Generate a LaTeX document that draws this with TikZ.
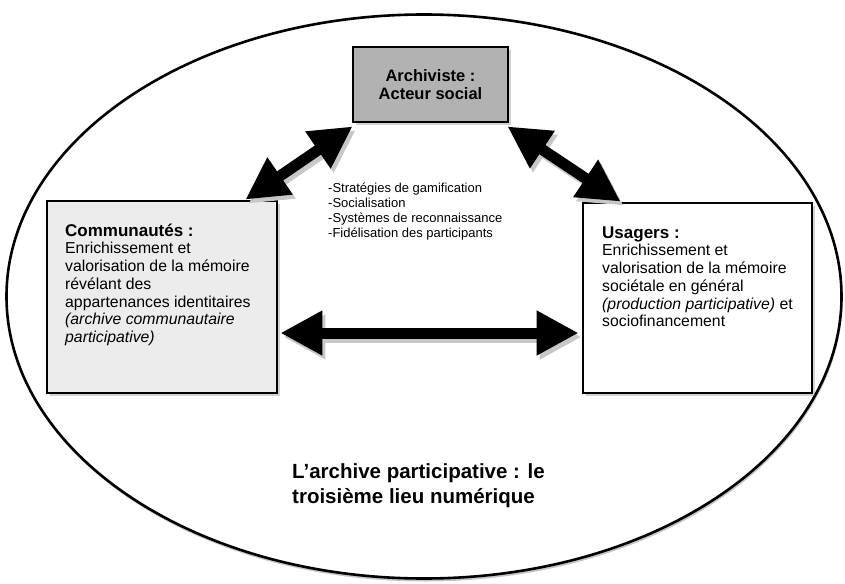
\documentclass[tikz,border=0pt]{standalone}
\usepackage{fontspec}
\setmainfont{Liberation Sans}
\usetikzlibrary{arrows.meta,shadows,shapes.geometric}
\definecolor{archgray}{RGB}{178,178,178}
\definecolor{commgray}{RGB}{236,236,236}
\begin{document}
\begin{tikzpicture}[x=1pt,y=-1pt,
  frame/.style={ellipse, draw=black, line width=2.6pt, fill=white, inner sep=0pt,
    drop shadow={shadow xshift=1pt, shadow yshift=-3pt, opacity=0.45}},
  boxframe/.style={rectangle, draw=black, line width=2.8pt, inner sep=0pt,
    drop shadow={shadow xshift=3pt, shadow yshift=-3pt, opacity=0.35}},
  bodytext/.style={anchor=north west, inner sep=0pt, align=left,
    font=\fontsize{15.8}{17.7}\selectfont},
  listtext/.style={anchor=north west, inner sep=0pt, align=left,
    font=\fontsize{13}{15}\selectfont},
  titletext/.style={anchor=north west, inner sep=0pt, align=left,
    font=\fontsize{20.5}{25}\selectfont\bfseries},
  bigarrow/.style={line width=11pt,
    {Triangle[length=42pt,width=42pt]}-{Triangle[length=42pt,width=42pt]}},
  arrowshadow/.style={bigarrow, draw=black!22,
    transform canvas={shift={(3pt,-4pt)}}}
]
\useasboundingbox (0,0) rectangle (845,583);

% outer ellipse: the participatory archive
\node[frame, minimum width=835pt, minimum height=564pt] (space) at (424,296.5) {};

% the three actors
\node[boxframe, fill=archgray, minimum width=155pt, minimum height=75pt,
  align=center, font=\fontsize{16.5}{18.5}\selectfont\bfseries]
  (arch) at (430.5,84.5) {Archiviste :\\Acteur social};
\node[boxframe, fill=commgray, minimum width=230pt, minimum height=192pt]
  (comm) at (162,297) {};
\node[boxframe, fill=white, minimum width=229pt, minimum height=190pt]
  (usag) at (697.5,298) {};

% box contents
\node[bodytext] (commtxt) at (65,219) {\rule{0pt}{17pt}{\fontsize{17}{17.7}\selectfont\bfseries Communautés :}\\
  Enrichissement et\\
  valorisation de la mémoire\\
  révélant des\\
  appartenances identitaires\\
  \textit{(archive communautaire}\\
  \textit{participative)}};
\node[bodytext] (usagtxt) at (602,221) {\rule{0pt}{17pt}{\fontsize{17}{17.7}\selectfont\bfseries Usagers :}\\
  Enrichissement et\\
  valorisation de la mémoire\\
  sociétale en général\\
  \textit{(production participative)} et\\
  sociofinancement};

% levers listed between the actors
\node[listtext] (levers) at (328,178) {\rule{0pt}{14pt}-Stratégies de gamification\\
  -Socialisation\\
  -Systèmes de reconnaissance\\
  -Fidélisation des participants};

% caption of the whole space
\node[titletext] (caption) at (292,457) {\rule{0pt}{21pt}L’archive participative : le\\
  troisième lieu numérique};

% arrow end points
\coordinate (tlA) at ([xshift=-33pt]comm.north east);
\coordinate (tlB) at ([shift={(1pt,-3pt)}]arch.south west);
\coordinate (trA) at ([shift={(-2pt,-3pt)}]arch.south east);
\coordinate (trB) at ([xshift=39pt]usag.north west);
\coordinate (hA) at ([shift={(2pt,-36pt)}]comm.east);
\coordinate (hB) at ([shift={(-3pt,-35pt)}]usag.west);

% shadows of the arrows
\draw[arrowshadow] (tlA) -- (tlB);
\draw[arrowshadow] (trA) -- (trB);
\draw[arrowshadow] (hA) -- (hB);

% two-way relations
\draw[bigarrow] (tlA) -- (tlB);
\draw[bigarrow] (trA) -- (trB);
\draw[bigarrow] (hA) -- (hB);
\end{tikzpicture}
\end{document}
